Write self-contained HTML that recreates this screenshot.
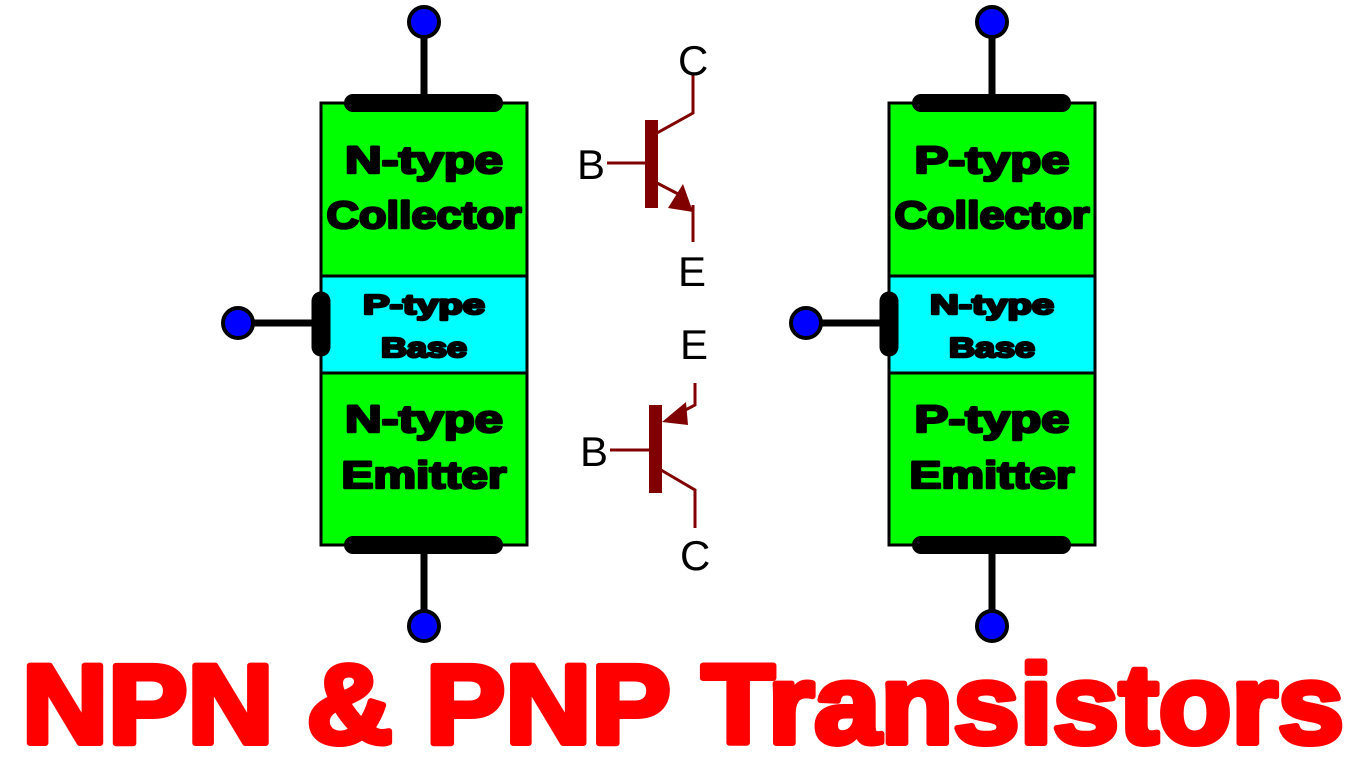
<!DOCTYPE html>
<html><head><meta charset="utf-8"><style>html,body{margin:0;padding:0;background:#fff}svg{display:block}</style></head>
<body>
<svg width="1366" height="768" viewBox="0 0 1366 768" xmlns="http://www.w3.org/2000/svg" font-family="Liberation Sans, sans-serif">
<g id="L">
  <line x1="424" y1="22" x2="424" y2="103" stroke="#000" stroke-width="7"/>
  <line x1="424" y1="545" x2="424" y2="626" stroke="#000" stroke-width="7"/>
  <line x1="238" y1="323" x2="321" y2="323" stroke="#000" stroke-width="7"/>
  <rect x="321" y="103" width="206" height="173" fill="#00ff00" stroke="#000" stroke-width="3"/>
  <rect x="321" y="276" width="206" height="97" fill="#00ffff" stroke="#000" stroke-width="3"/>
  <rect x="321" y="373" width="206" height="172" fill="#00ff00" stroke="#000" stroke-width="3"/>
  <line x1="353" y1="103" x2="494" y2="103" stroke="#000" stroke-width="18" stroke-linecap="round"/>
  <line x1="353" y1="545" x2="494" y2="545" stroke="#000" stroke-width="18" stroke-linecap="round"/>
  <line x1="321" y1="301" x2="321" y2="347" stroke="#000" stroke-width="19" stroke-linecap="round"/>
  <circle cx="424" cy="22" r="15" fill="#0000ff" stroke="#000" stroke-width="4"/>
  <circle cx="424" cy="626" r="15" fill="#0000ff" stroke="#000" stroke-width="4"/>
  <circle cx="238" cy="323" r="15" fill="#0000ff" stroke="#000" stroke-width="4"/>
</g>
<use href="#L" x="568"/>
<g font-weight="bold" text-anchor="middle" fill="#000" stroke="#000" stroke-width="2.5" stroke-linejoin="round">
  <text x="424" y="173" font-size="38" textLength="158" lengthAdjust="spacingAndGlyphs">N-type</text>
  <text x="424" y="228" font-size="38" textLength="195" lengthAdjust="spacingAndGlyphs">Collector</text>
  <text x="424" y="314" font-size="28" textLength="122" lengthAdjust="spacingAndGlyphs">P-type</text>
  <text x="424" y="357" font-size="28" textLength="86" lengthAdjust="spacingAndGlyphs">Base</text>
  <text x="424" y="432" font-size="38" textLength="158" lengthAdjust="spacingAndGlyphs">N-type</text>
  <text x="424" y="488" font-size="38" textLength="165" lengthAdjust="spacingAndGlyphs">Emitter</text>
  <text x="992" y="173" font-size="38" textLength="155" lengthAdjust="spacingAndGlyphs">P-type</text>
  <text x="992" y="228" font-size="38" textLength="195" lengthAdjust="spacingAndGlyphs">Collector</text>
  <text x="992" y="314" font-size="28" textLength="124" lengthAdjust="spacingAndGlyphs">N-type</text>
  <text x="992" y="357" font-size="28" textLength="86" lengthAdjust="spacingAndGlyphs">Base</text>
  <text x="992" y="432" font-size="38" textLength="155" lengthAdjust="spacingAndGlyphs">P-type</text>
  <text x="992" y="488" font-size="38" textLength="165" lengthAdjust="spacingAndGlyphs">Emitter</text>
</g>
<g stroke="#800000" stroke-width="3" fill="none">
  <line x1="607" y1="163" x2="646" y2="163"/>
  <polyline points="657,133 693,113 693,75"/>
  <polyline points="657,183 682,196"/>
  <polyline points="693,205 693,242"/>
  <line x1="610" y1="450" x2="650" y2="450"/>
  <polyline points="695,383 695,405 672,417"/>
  <polyline points="661,470 695,490 695,528"/>
</g>
<g fill="#800000">
  <rect x="645" y="120" width="13" height="88"/>
  <polygon points="693,212 668,208 683,184"/>
  <rect x="649" y="405" width="13" height="88"/>
  <polygon points="662,422 686,402 688,425"/>
</g>
<g font-size="42" fill="#000">
  <text x="678" y="75">C</text>
  <text x="577" y="179">B</text>
  <text x="678" y="286">E</text>
  <text x="680" y="359">E</text>
  <text x="580" y="466">B</text>
  <text x="680" y="570">C</text>
</g>
<text x="683" y="743" text-anchor="middle" font-size="112" font-weight="bold" fill="#ff0000" stroke="#ff0000" stroke-width="6" stroke-linejoin="round" textLength="1322" lengthAdjust="spacingAndGlyphs">NPN &amp; PNP Transistors</text>
</svg>
</body></html>
